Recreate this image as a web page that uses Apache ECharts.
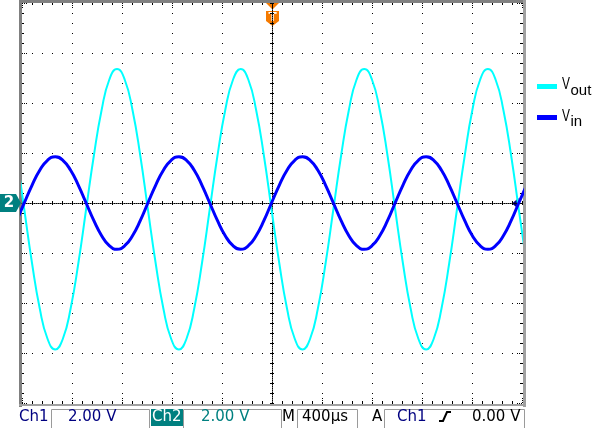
<!DOCTYPE html>
<html>
<head>
<meta charset="utf-8">
<script src="https://cdn.jsdelivr.net/npm/echarts@6/dist/echarts.min.js"></script>
<style>
html,body{margin:0;padding:0;background:#fff;}
#c{width:601px;height:428px;}
</style>
</head>
<body>
<div id="c"></div>
<script>
// time relative to trigger, microseconds (400 us/div)
var timeUs = [-2043,-1982,-1920,-1858,-1796,-1734,-1673,-1611,-1549,-1487,-1425,-1363,-1302,-1240,-1178,-1116,
  -1054,-993,-931,-869,-807,-745,-684,-622,-560,-498,-436,-374,-312,-251,-189,-127,
  -65,-4,58,120,182,244,305,367,429,491,553,615,676,738,800,862,
  924,985,1047,1109,1171,1233,1294,1356,1418,1480,1542,1603,1665,1727,1789,1851,
  1913,1974,2036];
// Ch1: v_in (volts)
var vinV = [-0.708,
  0,0.708,1.308,1.709,1.85,1.709,1.308,0.708,0,-0.708,-1.308,-1.709,-1.85,-1.709,-1.308,-0.708,
  0,0.708,1.308,1.709,1.85,1.709,1.308,0.708,0,-0.708,-1.308,-1.709,-1.85,-1.709,-1.308,-0.708,
  0,0.708,1.308,1.709,1.85,1.709,1.308,0.708,0,-0.708,-1.308,-1.709,-1.85,-1.709,-1.308,-0.708,
  0,0.708,1.308,1.709,1.85,1.709,1.308,0.708,0,-0.708,-1.308,-1.709,-1.85,-1.709,-1.308,-0.708,
  0,0.708];
// Ch2: v_out (volts)
var voutV = [1.90,
  -0.25,-2.40,-4.22,-5.43,-5.86,-5.43,-4.22,-2.40,-0.25,1.90,3.72,4.93,5.36,4.93,3.72,1.90,
  -0.25,-2.40,-4.22,-5.43,-5.86,-5.43,-4.22,-2.40,-0.25,1.90,3.72,4.93,5.36,4.93,3.72,1.90,
  -0.25,-2.40,-4.22,-5.43,-5.86,-5.43,-4.22,-2.40,-0.25,1.90,3.72,4.93,5.36,4.93,3.72,1.90,
  -0.25,-2.40,-4.22,-5.43,-5.86,-5.43,-4.22,-2.40,-0.25,1.90,3.72,4.93,5.36,4.93,3.72,1.90,
  -0.25,-2.40];
var seriesNames = ['vout', 'vin'];
var statusTexts = {ch1: 'Ch1', ch1Scale: '2.00 V', ch2: 'Ch2', ch2Scale: '2.00 V', m: 'M', time: '400\u00b5s', a: 'A', trigSrc: 'Ch1', trigLevel: '0.00 V'};

var X_MIN = -2000, X_MAX = 2000, X_INT = 400;
var Y_MIN = -8, Y_MAX = 8, Y_INT = 2;

function pair(xs, ys){ var o=[]; for (var i=0;i<xs.length;i++) o.push([xs[i], ys[i]]); return o; }

var chart = echarts.init(document.getElementById('c'), null, {renderer:'canvas'});

var dotted = [1, 9];
function xAx(extra){
  var base = {type:'value', min:X_MIN, max:X_MAX, interval:X_INT,
    axisLabel:{show:false}, splitLine:{show:false},
    axisLine:{show:false, onZero:false},
    axisTick:{show:true, inside:true, length:5, lineStyle:{color:'#000', width:1, type:[1,1]}},
    minorTick:{show:true, splitNumber:5, length:2, lineStyle:{color:'#000', width:1}}};
  return Object.assign(base, extra);
}
function yAx(extra){
  var base = {type:'value', min:Y_MIN, max:Y_MAX, interval:Y_INT,
    axisLabel:{show:false}, splitLine:{show:false},
    axisLine:{show:false, onZero:false},
    axisTick:{show:true, inside:true, length:5, lineStyle:{color:'#000', width:1, type:[1,1]}},
    minorTick:{show:true, splitNumber:5, length:2, lineStyle:{color:'#000', width:1}}};
  return Object.assign(base, extra);
}

var FONT = 'DejaVu Sans';
function txt(x, y, s, color, extra){
  return Object.assign({type:'text', x:x, y:y, silent:true, style:{text:s, fill:color, font:'15px "' + FONT + '"', textVerticalAlign:'top', verticalAlign:'top'}}, extra||{});
}
function box(x1, x2){
  return {type:'rect', silent:true, shape:{x:x1+0.5, y:409.5, width:x2-x1, height:30}, style:{fill:null, stroke:'#9a9a9a', lineWidth:1}};
}
var orange = '#f57a00';
var navy = '#000080';
var teal = '#008080';

var option = {
  animation:false,
  backgroundColor:'#ffffff',
  grid:{left:22, top:3, width:500, height:400, containLabel:false, outerBoundsMode:'none'},
  xAxis:[
    xAx({position:'bottom', splitLine:{show:true, lineStyle:{color:'#000', width:1, type:dotted}}}),
    xAx({position:'top'}),
    xAx({position:'bottom', axisLine:{show:true, onZero:true, onZeroAxisIndex:0, lineStyle:{color:'#000', width:1, type:[1,1]}},
         axisTick:{show:true, inside:true, length:2, lineStyle:{color:'#000'}}, minorTick:{show:true, splitNumber:5, length:2, lineStyle:{color:'#000'}}}),
    xAx({position:'bottom', axisLine:{show:false, onZero:true, onZeroAxisIndex:0},
         axisTick:{show:true, inside:false, length:2, lineStyle:{color:'#000'}}, minorTick:{show:true, splitNumber:5, length:2, lineStyle:{color:'#000'}}})
  ],
  yAxis:[
    yAx({position:'left', splitLine:{show:true, lineStyle:{color:'#000', width:1, type:dotted}}}),
    yAx({position:'right'}),
    yAx({position:'left', axisLine:{show:true, onZero:true, onZeroAxisIndex:0, lineStyle:{color:'#000', width:1, type:[1,1]}},
         axisTick:{show:true, inside:true, length:2, lineStyle:{color:'#000'}}, minorTick:{show:true, splitNumber:5, length:2, lineStyle:{color:'#000'}}}),
    yAx({position:'left', axisLine:{show:false, onZero:true, onZeroAxisIndex:0},
         axisTick:{show:true, inside:false, length:2, lineStyle:{color:'#000'}}, minorTick:{show:true, splitNumber:5, length:2, lineStyle:{color:'#000'}}})
  ],
  series:[
    {name:seriesNames[0], type:'line', xAxisIndex:0, yAxisIndex:0, data:pair(timeUs, voutV), smooth:true, showSymbol:false, clip:true,
     lineStyle:{color:'#00ffff', width:2}, z:3},
    {name:seriesNames[1], type:'line', xAxisIndex:0, yAxisIndex:0, data:pair(timeUs, vinV), smooth:true, showSymbol:false, clip:true,
     lineStyle:{color:'#0000ff', width:3}, z:4}
  ],
  graphic:{elements:[
    // gray frame
    {type:'rect', silent:true, shape:{x:19, y:0, width:3, height:407}, style:{fill:'#808080'}},
    {type:'rect', silent:true, shape:{x:19, y:0, width:506, height:3}, style:{fill:'#808080'}},
    {type:'rect', silent:true, shape:{x:523, y:0, width:3, height:407}, style:{fill:'#a0a0a0'}},
    {type:'rect', silent:true, shape:{x:19, y:404, width:507, height:2}, style:{fill:'#a0a0a0'}},
    // trigger position marker
    {type:'polygon', silent:true, shape:{points:[[266,3],[279,3],[272.5,9.5]]}, style:{fill:orange}},
    {type:'polygon', silent:true, shape:{points:[[266,11],[279,11],[279,21],[272.5,26],[266,21]]}, style:{fill:orange}},
    {type:'text', silent:true, x:272.5, y:18, style:{text:'T', fill:'#fff', font:'bold 12px "DejaVu Sans"', align:'center', verticalAlign:'middle'}},
    // ch2 ground marker
    {type:'polygon', silent:true, shape:{points:[[0,194],[16,194],[21,203],[16,212],[0,212]]}, style:{fill:teal}},
    {type:'text', silent:true, x:9, y:203.5, style:{text:'2', fill:'#fff', font:'bold 15px "DejaVu Sans"', align:'center', verticalAlign:'middle'}},
    // trigger level marker
    {type:'polygon', silent:true, shape:{points:[[512,203.5],[518.5,198],[518.5,209]]}, style:{fill:navy}},
    // legend
    {type:'rect', silent:true, shape:{x:537, y:84, width:20, height:5}, style:{fill:'#00ffff'}},
    {type:'rect', silent:true, shape:{x:537, y:115, width:20, height:5}, style:{fill:'#0000ff'}},
    {type:'text', silent:true, x:562, y:76, scaleX:0.7, style:{text:'V', fill:'#000', font:'17px "Liberation Sans"', verticalAlign:'top'}},
    {type:'text', silent:true, x:570.5, y:83, style:{text:'out', fill:'#000', font:'15px "Liberation Sans"', verticalAlign:'top'}},
    {type:'text', silent:true, x:562, y:107.7, scaleX:0.7, style:{text:'V', fill:'#000', font:'17px "Liberation Sans"', verticalAlign:'top'}},
    {type:'text', silent:true, x:570.5, y:114.5, style:{text:'in', fill:'#000', font:'15px "Liberation Sans"', verticalAlign:'top'}},
    // status bar
    box(51, 149), box(183, 281), box(297, 357), box(384, 524),
    {type:'rect', silent:true, shape:{x:151, y:409, width:32, height:17}, style:{fill:teal}},
    txt(19, 410, statusTexts.ch1, navy),
    txt(68, 410, statusTexts.ch1Scale, navy),
    txt(152, 410, statusTexts.ch2, '#ffffff'),
    txt(201, 410, statusTexts.ch2Scale, teal),
    txt(282, 410, statusTexts.m, '#000'),
    txt(302, 410, statusTexts.time, '#000'),
    txt(372, 410, statusTexts.a, '#000'),
    txt(397, 410, statusTexts.trigSrc, navy),
    {type:'polyline', silent:true, shape:{points:[[439,421],[443,421],[447,412],[451,412]]}, style:{stroke:'#000', lineWidth:2, fill:null}},
    txt(472, 410, statusTexts.trigLevel, '#000')
  ]}
};
chart.setOption(option);
</script>
</body>
</html>
